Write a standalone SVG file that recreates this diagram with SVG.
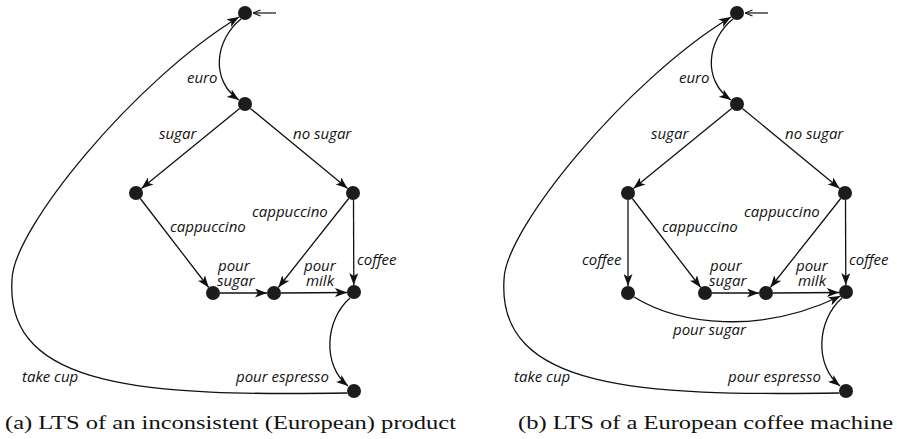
<svg xmlns="http://www.w3.org/2000/svg" width="897" height="439" viewBox="0 0 897 439">
  <style>
    .state { fill: #1c1c1c; }
    .edge { fill: none; stroke: #111; stroke-width: 1.3; marker-end: url(#head); }
    .init { fill: none; stroke: #111; stroke-width: 1.2; marker-end: url(#openhead); }
    .lbl { font-family: "Open Sans", "DejaVu Sans", sans-serif; font-style: italic; font-size: 15px; fill: #111; }
    .cap { font-family: "Liberation Serif", "Times New Roman", serif; font-size: 19px; fill: #111; }
  </style>
  <defs>
    <marker id="head" markerUnits="userSpaceOnUse" markerWidth="12" markerHeight="9" viewBox="0 0 12 9" refX="12" refY="4.5" orient="auto">
      <path d="M0,0 L12,4.5 L0,9 L3,4.5 z" fill="#111"/>
    </marker>
    <marker id="openhead" markerUnits="userSpaceOnUse" markerWidth="8" markerHeight="8" viewBox="0 0 8 8" refX="7.5" refY="4" orient="auto">
      <path d="M0,1 L7.5,4 L0,7" fill="none" stroke="#111" stroke-width="1.1"/>
    </marker>
  </defs>

  <!-- (a) LTS of an inconsistent product -->
  <g id="lts-a">
    <g id="a-edges">
      <path class="init" d="M276,13 L253,13"/>
      <path class="edge" d="M241,19 C215,40 210,80 239,100"/>
      <path class="edge" d="M239.6,108.4 L141.4,188.6"/>
      <path class="edge" d="M250.4,108.5 L347.6,188.5"/>
      <path class="edge" d="M140.3,198.5 L208.7,287.5"/>
      <path class="edge" d="M348.7,198.5 L278.3,287.5"/>
      <path class="edge" d="M353.5,200 L353.8,285"/>
      <path class="edge" d="M220,293 L267,293"/>
      <path class="edge" d="M281,293 L347,292.5"/>
      <path class="edge" d="M350,298 C325,320 322,365 348,386"/>
      <path class="edge" d="M347,393 C150,396 5,390 12,280 C12,230 135,80 239,17"/>
    </g>
    <g id="a-labels">
      <text class="lbl" x="187" y="82.5">euro</text>
      <text class="lbl" x="159" y="139">sugar</text>
      <text class="lbl" x="293" y="139">no sugar</text>
      <text class="lbl" x="252" y="216.5">cappuccino</text>
      <text class="lbl" x="170" y="231.5">cappuccino</text>
      <text class="lbl" x="357" y="265">coffee</text>
      <text class="lbl"><tspan x="218" y="271">pour</tspan><tspan x="217" y="286">sugar</tspan></text>
      <text class="lbl"><tspan x="304" y="271">pour</tspan><tspan x="306" y="286">milk</tspan></text>
      <text class="lbl" x="236" y="381.5">pour espresso</text>
      <text class="lbl" x="22" y="381.5">take cup</text>
    </g>
    <g id="a-s0"><circle class="state" cx="245" cy="13" r="7"/></g>
    <g id="a-s1"><circle class="state" cx="245" cy="104" r="7"/></g>
    <g id="a-s2"><circle class="state" cx="136" cy="193" r="7"/></g>
    <g id="a-s3"><circle class="state" cx="353" cy="193" r="7"/></g>
    <g id="a-s4"><circle class="state" cx="213" cy="293" r="7"/></g>
    <g id="a-s5"><circle class="state" cx="274" cy="293" r="7"/></g>
    <g id="a-s6"><circle class="state" cx="354" cy="292" r="7"/></g>
    <g id="a-s7"><circle class="state" cx="354" cy="391" r="7"/></g>
    <text class="cap" x="5" y="429" textLength="451" lengthAdjust="spacingAndGlyphs">(a) LTS of an inconsistent (European) product</text>
  </g>

  <!-- (b) LTS of a European coffee machine -->
  <g id="lts-b">
    <g id="b-edges">
      <path class="init" d="M768,13 L745,13"/>
      <path class="edge" d="M733,19 C707,40 702,80 731,100"/>
      <path class="edge" d="M731.6,108.4 L633.4,188.6"/>
      <path class="edge" d="M742.4,108.5 L839.6,188.5"/>
      <path class="edge" d="M628,200 L628,286"/>
      <path class="edge" d="M632.3,198.5 L700.7,287.5"/>
      <path class="edge" d="M840.7,198.5 L770.3,287.5"/>
      <path class="edge" d="M845.5,200 L845.8,285"/>
      <path class="edge" d="M712,293 L759,293"/>
      <path class="edge" d="M773,293 L839,292.5"/>
      <path class="edge" d="M634,297 C680,325 760,335 840.5,296"/>
      <path class="edge" d="M842,298 C817,320 814,365 840,386"/>
      <path class="edge" d="M839,393 C642,396 497,390 504,280 C504,230 627,80 731,17"/>
    </g>
    <g id="b-labels">
      <text class="lbl" x="679" y="82.5">euro</text>
      <text class="lbl" x="651" y="139">sugar</text>
      <text class="lbl" x="785" y="139">no sugar</text>
      <text class="lbl" x="744" y="216.5">cappuccino</text>
      <text class="lbl" x="662" y="231.5">cappuccino</text>
      <text class="lbl" x="582" y="265">coffee</text>
      <text class="lbl" x="849" y="265">coffee</text>
      <text class="lbl"><tspan x="710" y="271">pour</tspan><tspan x="709" y="286">sugar</tspan></text>
      <text class="lbl"><tspan x="796" y="271">pour</tspan><tspan x="798" y="286">milk</tspan></text>
      <text class="lbl" x="673" y="335">pour sugar</text>
      <text class="lbl" x="728" y="381.5">pour espresso</text>
      <text class="lbl" x="514" y="381.5">take cup</text>
    </g>
    <g id="b-s0"><circle class="state" cx="737" cy="13" r="7"/></g>
    <g id="b-s1"><circle class="state" cx="737" cy="104" r="7"/></g>
    <g id="b-s2"><circle class="state" cx="628" cy="193" r="7"/></g>
    <g id="b-s3"><circle class="state" cx="845" cy="193" r="7"/></g>
    <g id="b-s8"><circle class="state" cx="628" cy="293" r="7"/></g>
    <g id="b-s4"><circle class="state" cx="705" cy="293" r="7"/></g>
    <g id="b-s5"><circle class="state" cx="766" cy="293" r="7"/></g>
    <g id="b-s6"><circle class="state" cx="846" cy="292" r="7"/></g>
    <g id="b-s7"><circle class="state" cx="846" cy="391" r="7"/></g>
    <text class="cap" x="518" y="429" textLength="375" lengthAdjust="spacingAndGlyphs">(b) LTS of a European coffee machine</text>
  </g>
</svg>
